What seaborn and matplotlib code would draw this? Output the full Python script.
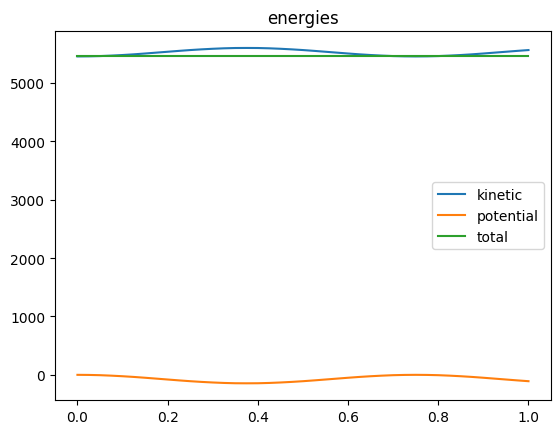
import matplotlib
matplotlib.use("Agg")
import matplotlib.pyplot as plt
import seaborn as sns
import numpy as np
import pandas as pd

t = [0.0, 0.025, 0.05, 0.075, 0.1, 0.125, 0.15, 0.175, 0.2, 0.225, 0.25,
     0.275, 0.3, 0.325, 0.35, 0.375, 0.4, 0.425, 0.45, 0.475, 0.5,
     0.525, 0.55, 0.575, 0.6, 0.625, 0.65, 0.675, 0.7, 0.725, 0.75,
     0.775, 0.8, 0.825, 0.85, 0.875, 0.9, 0.925, 0.95, 0.975, 1.0]
potential = [0, -1.6, -6, -14, -24, -36, -50, -65, -80, -95, -109,
             -121, -131, -139, -144, -145, -144, -139, -131, -121, -109,
             -95, -80, -65, -50, -36, -24, -14, -6, -1.6, 0,
             -1.6, -6, -14, -24, -36, -50, -65, -80, -95, -109]
total = [5452] * len(t)
kinetic = [5452 - p for p in potential]

fig, ax = plt.subplots(figsize=(5.6, 4.35), dpi=100)
fig.subplots_adjust(left=0.098, right=0.984, top=0.926, bottom=0.078)
sns.lineplot(x=t, y=kinetic, ax=ax, label="kinetic", color="#1f77b4")
sns.lineplot(x=t, y=potential, ax=ax, label="potential", color="#ff7f0e")
sns.lineplot(x=t, y=total, ax=ax, label="total", color="#2ca02c")
ax.set_title("energies")
ax.legend(loc="center right")
fig.savefig("out.png", dpi=100)
